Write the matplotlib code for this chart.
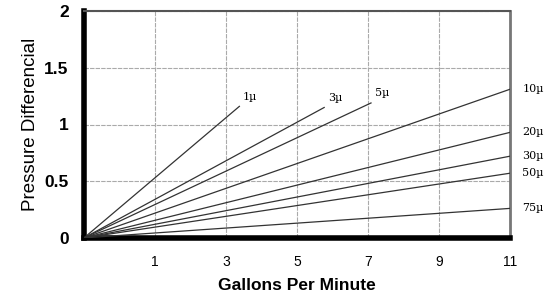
import matplotlib.pyplot as plt

# filter lines: rating, end point (gpm, pressure differential)
ratings = ["1µ", "3µ", "5µ", "10µ", "20µ", "30µ", "50µ", "75µ"]
x_end = [3.38, 5.77, 7.09, 11, 11, 11, 11, 11]
y_end = [1.16, 1.15, 1.19, 1.31, 0.93, 0.72, 0.57, 0.26]
x_start, y_start = -1, 0

x_ticks = [1, 3, 5, 7, 9, 11]
y_ticks = [0, 0.5, 1, 1.5, 2]
y_ticklabels = ["0", "0.5", "1", "1.5", "2"]

plt.rcParams["font.family"] = ["Liberation Sans", "DejaVu Sans"]
fig = plt.figure(figsize=(5.58, 3.0), dpi=100)
ax = fig.add_axes([0.1505, 0.207, 0.763, 0.756])

for lab, xe, ye in zip(ratings, x_end, y_end):
    ax.plot([x_start, xe], [y_start, ye], color="#333333", lw=0.9, zorder=3)
    if xe < 11:
        ax.text(xe + 0.1, ye + 0.04, lab, fontsize=8, family="DejaVu Serif",
                ha="left", va="bottom")
    else:
        ax.text(xe + 0.35, ye, lab, fontsize=8, family="DejaVu Serif",
                ha="left", va="center", clip_on=False)

ax.set_xlim(-1, 11)
ax.set_ylim(0, 2)
ax.set_xticks(x_ticks)
ax.set_yticks(y_ticks)
ax.set_yticklabels(y_ticklabels)
ax.tick_params(length=0)
ax.tick_params(axis="x", labelsize=10, pad=12)
ax.tick_params(axis="y", labelsize=12.5, pad=11)
for t in ax.get_yticklabels():
    t.set_fontweight("bold")

ax.grid(True, color="#aaaaaa", lw=0.8, ls=(0, (4, 1)))
ax.set_axisbelow(True)

ax.spines["left"].set_linewidth(4)
ax.spines["bottom"].set_linewidth(4)
ax.spines["top"].set_linewidth(1.5)
ax.spines["top"].set_color("#555555")
ax.spines["right"].set_linewidth(2)
ax.spines["right"].set_color("#777777")

ax.set_xlabel("Gallons Per Minute", fontsize=12.5, fontweight="bold", labelpad=7)
ax.set_ylabel("Pressure Differencial", fontsize=13.5, labelpad=4)

fig.savefig("out.png", dpi=100)
